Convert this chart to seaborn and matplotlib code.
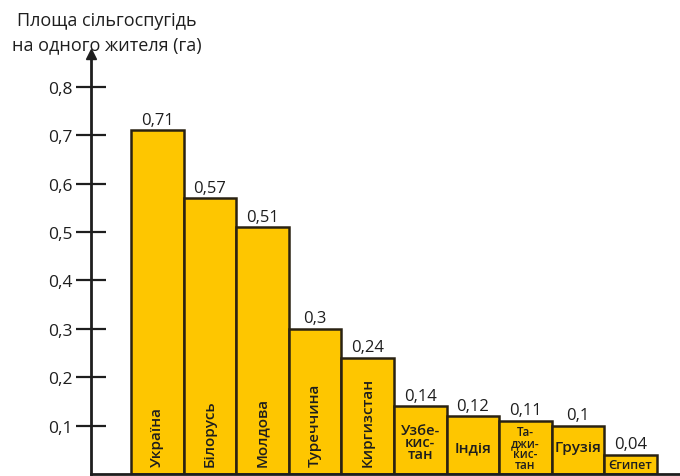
import matplotlib
matplotlib.use("Agg")
import matplotlib.pyplot as plt
import seaborn as sns
import pandas as pd

countries = ["Україна", "Білорусь", "Молдова", "Туреччина", "Киргизстан",
             "Узбе-\nкис-\nтан", "Індія", "Та-\nджи-\nкис-\nтан", "Грузія", "Єгипет"]
values = [0.71, 0.57, 0.51, 0.30, 0.24, 0.14, 0.12, 0.11, 0.10, 0.04]
value_labels = ["0,71", "0,57", "0,51", "0,3", "0,24", "0,14", "0,12", "0,11", "0,1", "0,04"]
yticks = [0.1, 0.2, 0.3, 0.4, 0.5, 0.6, 0.7, 0.8]
ytick_labels = ["0,1", "0,2", "0,3", "0,4", "0,5", "0,6", "0,7", "0,8"]
title_lines = ["Площа сільгоспугідь", "на одного жителя (га)"]

sns.set_style("white")
plt.rcParams['font.family'] = ['Open Sans', 'DejaVu Sans']

df = pd.DataFrame({"country": countries, "value": values})

fig = plt.figure(figsize=(6.8, 4.77), dpi=100)
ax = fig.add_axes([91/680, 2/477, 589/680, 420/477])

bar_color = "#FEC600"
txt = "#1e1e1e"
sns.barplot(data=df, x="country", y="value", color=bar_color, width=1.0,
            edgecolor="#2a2212", linewidth=1.8, saturation=1, ax=ax)

ax.set_xlim(-1.26, 9.94)
ax.set_ylim(0, 0.868)
ax.set_xlabel("")
ax.set_ylabel("")
ax.set_xticks([])
ax.set_yticks(yticks)
ax.set_yticklabels(ytick_labels, fontsize=12.5, color=txt)
ax.tick_params(axis="y", left=True, direction="inout", length=21, width=1.6, color=txt, pad=3)

for s in ["top", "right"]:
    ax.spines[s].set_visible(False)
for s in ["left", "bottom"]:
    ax.spines[s].set_linewidth(2.0)
    ax.spines[s].set_color(txt)

# arrow head on the y axis
ax.plot([0], [1.0], marker="^", color=txt, markersize=7, transform=ax.transAxes, clip_on=False)

# value labels
for i, (v, lab) in enumerate(zip(values, value_labels)):
    ax.text(i, v + 0.005, lab, ha="center", va="bottom", fontsize=12, color=txt)

# names inside bars
for i, name in enumerate(countries):
    if i < 5:
        ax.text(i, 0.016, name, rotation=90, ha="center", va="bottom", fontsize=11,
                color=txt, fontweight="semibold")
    elif name.count("\n") >= 3:
        ax.text(i, 0.053, name, ha="center", va="center", fontsize=8.5,
                color=txt, fontweight="semibold", linespacing=0.8)
    elif "\n" in name:
        ax.text(i, 0.066, name, ha="center", va="center", fontsize=10.5,
                color=txt, fontweight="semibold", linespacing=0.85)
    elif name == "Єгипет":
        ax.text(i, 0.019, name, ha="center", va="center", fontsize=9,
                color=txt, fontweight="semibold")
    else:
        ax.text(i, 0.055, name, ha="center", va="center", fontsize=11,
                color=txt, fontweight="semibold")

fig.text(107/680, 1 - 21/477, title_lines[0], ha="center", va="center", fontsize=13, color=txt)
fig.text(107/680, 1 - 45/477, title_lines[1], ha="center", va="center", fontsize=13, color=txt)

fig.savefig("out.png", dpi=100)
